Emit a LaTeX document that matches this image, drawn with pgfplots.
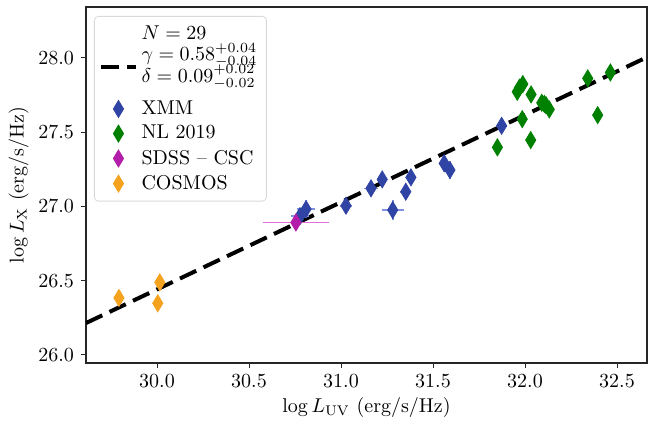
\documentclass[border=0pt]{standalone}
\usepackage{pgfplots}
\pgfplotsset{compat=1.18}
\usepackage{pgfplotstable}
\definecolor{xmmblue}{RGB}{48,68,165}
\definecolor{xmmlight}{RGB}{130,145,225}
\definecolor{nlgreen}{RGB}{0,128,0}
\definecolor{sdssmag}{RGB}{178,30,170}
\definecolor{sdsslight}{RGB}{225,110,220}
\definecolor{cosmosorange}{RGB}{245,162,30}

\pgfplotstableread{
x y ex ey
30.777 26.935 0.05 0.05
30.810 26.982 0.05 0.06
31.027 27.005 0.03 0.05
31.163 27.122 0.04 0.05
31.224 27.182 0.03 0.05
31.281 26.976 0.06 0.07
31.352 27.099 0.03 0.05
31.380 27.196 0.03 0.05
31.561 27.290 0.03 0.05
31.592 27.245 0.03 0.06
31.873 27.543 0.03 0.04
}\xmm

\pgfplotstableread{
x y
31.958 27.772
31.988 27.824
31.970 27.800
32.033 27.754
32.091 27.698
32.114 27.682
32.105 27.690
32.132 27.653
31.985 27.588
32.031 27.447
31.850 27.398
32.341 27.862
32.464 27.902
32.395 27.615
}\nl

\pgfplotstableread{
x y ex
30.755 26.892 0.18
}\sdss

\pgfplotstableread{
x y
29.793 26.384
30.015 26.489
30.004 26.348
}\cosmos

\pgfplotstableread{
x y
29.614 26.215
32.663 28.005
}\fit

\begin{document}
\begin{tikzpicture}
\begin{axis}[
  scale only axis, width=280.5pt, height=178pt,
  xmin=29.614, xmax=32.663, ymin=25.946, ymax=28.343,
  xtick={30,30.5,31,31.5,32,32.5},
  ytick={26,26.5,27,27.5,28},
  xticklabel style={/pgf/number format/fixed,/pgf/number format/fixed zerofill,/pgf/number format/precision=1},
  yticklabel style={/pgf/number format/fixed,/pgf/number format/fixed zerofill,/pgf/number format/precision=1},
  tick align=outside, tick pos=left, major tick length=2.5pt,
  axis line style={line width=0.6pt, black!85},
  tick style={line width=0.5pt, black!85},
  xlabel={$\log L_{\rm UV}$ (erg/s/Hz)},
  ylabel={$\log L_{\rm X}$ (erg/s/Hz)},
  xlabel style={yshift=2pt},
  ylabel style={yshift=-2pt},
  legend cell align=left,
  legend style={at={(0,1)}, anchor=north west, xshift=4pt, yshift=-4.5pt,
    draw=black!15, rounded corners=2pt, fill=white, inner sep=2.5pt,
    row sep=0pt, font=\normalsize,
    column 2/.append style={nodes={inner xsep=2pt}}},
]
\addlegendimage{empty legend}
\addlegendentry{$N=29$}

\addplot[black, line width=2pt, dash pattern=on 9pt off 4pt] table[x=x,y=y]{\fit};
\addlegendentry[text depth={}, yshift=-2pt]{\raisebox{0pt}[\dimexpr\height-3.5pt\relax][\dimexpr\depth+1.5pt\relax]{\begin{tabular}{@{}l@{}}$\gamma=0.58^{+0.04}_{-0.04}$\\[-1.5pt]$\delta=0.09^{+0.02}_{-0.02}$\end{tabular}}}

\addplot[only marks, color=xmmblue, mark=diamond*, mark size=4.25pt,
  mark options={xscale=0.8, fill=xmmblue, draw=xmmblue},
  error bars/.cd, x dir=both, x explicit, y dir=both, y explicit,
  error bar style={xmmlight, line width=0.8pt}, error mark=none]
  table[x=x,y=y,x error=ex,y error=ey]{\xmm};
\addlegendentry{XMM}

\addplot[only marks, color=nlgreen, mark=diamond*, mark size=4.25pt,
  mark options={xscale=0.8, fill=nlgreen, draw=nlgreen}]
  table[x=x,y=y]{\nl};
\addlegendentry{NL 2019}

\addplot[only marks, color=sdssmag, mark=diamond*, mark size=4.25pt,
  mark options={xscale=0.8, fill=sdssmag, draw=sdssmag},
  error bars/.cd, x dir=both, x explicit,
  error bar style={sdsslight, line width=0.6pt}, error mark=none]
  table[x=x,y=y,x error=ex]{\sdss};
\addlegendentry{SDSS -- CSC}

\addplot[only marks, color=cosmosorange, mark=diamond*, mark size=4.25pt,
  mark options={xscale=0.8, fill=cosmosorange, draw=cosmosorange}]
  table[x=x,y=y]{\cosmos};
\addlegendentry{COSMOS}
\end{axis}
\pgfresetboundingbox
\path[use as bounding box] ([xshift=-43pt,yshift=-29pt]current axis.south west) rectangle ([xshift=3.5pt,yshift=3.5pt]current axis.north east);
\end{tikzpicture}
\end{document}
